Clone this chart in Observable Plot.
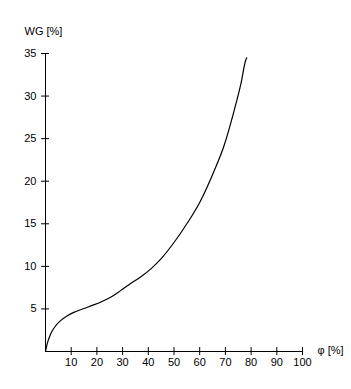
<!DOCTYPE html>
<html>
<head>
<meta charset="utf-8">
<script src="https://cdn.jsdelivr.net/npm/d3@7"></script>
<script src="https://cdn.jsdelivr.net/npm/@observablehq/plot@0.6"></script>
<style>
  html, body { margin: 0; padding: 0; background: #fff; }
  svg { display: block; }
</style>
</head>
<body>
<div id="chart"></div>
<script>
// Curve: relative humidity φ [%] vs WG [%]
const phi = [0, 0.65, 2, 4, 6, 8.5, 11, 15, 19, 22, 26, 29.2, 33, 37, 41, 45, 50, 55, 60, 65.6, 69.5, 73.4, 76.0, 77.9, 78.3];
const wg  = [0, 0.9, 2.05, 3.05, 3.65, 4.2, 4.6, 5.05, 5.5, 5.88, 6.5, 7.15, 7.95, 8.75, 9.7, 10.9, 12.8, 15.0, 17.5, 21.2, 24.2, 28.3, 31.4, 34.2, 34.5];
const xTicks = [10, 20, 30, 40, 50, 60, 70, 80, 90, 100];
const yTicks = [5, 10, 15, 20, 25, 30, 35];
const xLabel = "φ [%]";
const yLabel = "WG [%]";

const data = phi.map((p, i) => ({phi: p, wg: wg[i]}));

const chart = Plot.plot({
  width: 351,
  height: 389,
  marginLeft: 45,
  marginRight: 49,
  marginTop: 53,
  marginBottom: 38,
  style: {fontFamily: "'Liberation Sans', Arial, sans-serif", fontSize: "11px", color: "#000", background: "#fff"},
  x: {domain: [0, 100], ticks: xTicks, tickSize: 0, tickPadding: 7, label: null},
  y: {domain: [0, 35], ticks: yTicks, tickSize: 0, tickPadding: 9, label: null},
  marks: [
    Plot.ruleY([0], {stroke: "#000"}),
    Plot.ruleX([0], {stroke: "#000"}),
    Plot.ruleX(xTicks, {x: d => d, y1: 0, y2: 0, insetTop: -4, insetBottom: -4, stroke: "#000"}),
    Plot.ruleY(yTicks, {y: d => d, x1: 0, x2: 0, insetLeft: -4, insetRight: -4, stroke: "#000"}),
    Plot.line(data, {x: "phi", y: "wg", stroke: "#000", strokeWidth: 1.2, curve: "monotone-x"}),
    Plot.text([yLabel], {frameAnchor: "top-left", text: d => d, dx: -21, dy: -22, textAnchor: "start", lineAnchor: "middle", fill: "#000"}),
    Plot.text([xLabel], {frameAnchor: "bottom-right", text: d => d, dx: 15, dy: -1, textAnchor: "start", lineAnchor: "middle", fill: "#000"})
  ]
});
document.getElementById("chart").appendChild(chart);
</script>
</body>
</html>
